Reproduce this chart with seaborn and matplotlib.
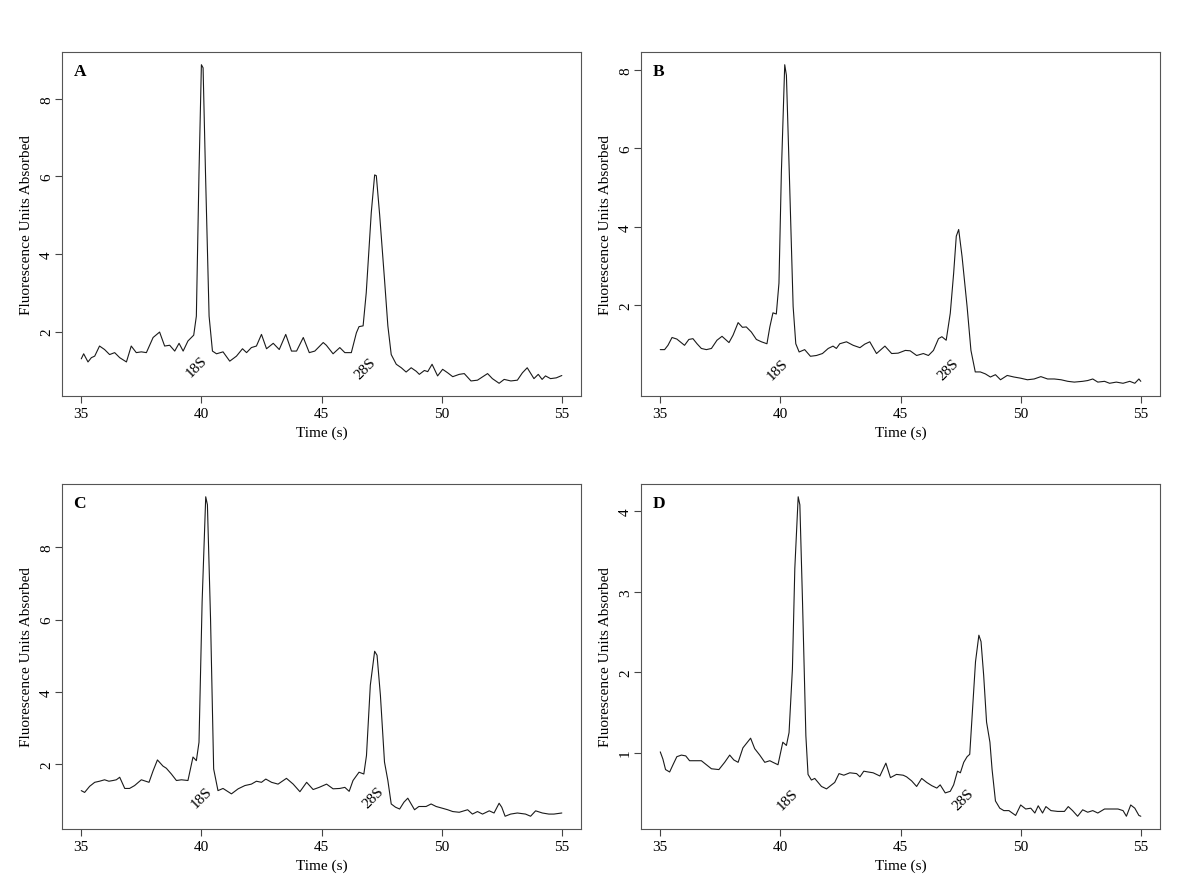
import matplotlib
matplotlib.use("Agg")
import pandas as pd
import matplotlib.pyplot as plt
import seaborn as sns

# --- data (time in s, fluorescence) ---
time_a = [35.0, 35.1, 35.28, 35.42, 35.56, 35.76, 35.97, 36.18, 36.39, 36.6,
          36.88, 37.08, 37.29, 37.5, 37.71, 37.99, 38.26, 38.47, 38.68, 38.89,
          39.07, 39.24, 39.44, 39.68, 39.79, 39.9, 40.0, 40.07, 40.17, 40.32,
          40.46, 40.63, 40.9, 41.18, 41.46, 41.71, 41.88, 42.08, 42.29, 42.5,
          42.71, 42.99, 43.24, 43.51, 43.75, 43.96, 44.24, 44.49, 44.72, 45.07,
          45.2, 45.48, 45.76, 45.97, 46.24, 46.45, 46.56, 46.73, 46.86, 47.07,
          47.21, 47.28, 47.42, 47.62, 47.76, 47.9, 48.11, 48.32, 48.52, 48.73,
          48.94, 49.07, 49.28, 49.42, 49.6, 49.83, 50.04, 50.25, 50.46, 50.73,
          50.94, 51.22, 51.49, 51.91, 52.11, 52.39, 52.6, 52.88, 53.15, 53.36,
          53.56, 53.84, 54.02, 54.18, 54.32, 54.53, 54.77, 55.0]
signal_a = [1.30, 1.43, 1.22, 1.33, 1.37, 1.63, 1.54, 1.41, 1.46, 1.33,
            1.22, 1.63, 1.46, 1.48, 1.46, 1.85, 1.99, 1.63, 1.65, 1.50,
            1.70, 1.50, 1.76, 1.91, 2.40, 6.1, 8.88, 8.80, 6.1, 2.40,
            1.50, 1.43, 1.48, 1.24, 1.37, 1.56, 1.46, 1.59, 1.63, 1.93,
            1.56, 1.70, 1.54, 1.93, 1.50, 1.50, 1.85, 1.46, 1.50, 1.72,
            1.65, 1.43, 1.59, 1.46, 1.46, 1.97, 2.13, 2.15, 3.0, 5.07,
            6.04, 6.02, 5.0, 3.35, 2.15, 1.41, 1.16, 1.07, 0.96, 1.07,
            0.98, 0.90, 1.0, 0.97, 1.16, 0.86, 1.03, 0.94, 0.84, 0.90,
            0.92, 0.73, 0.75, 0.92, 0.79, 0.67, 0.77, 0.73, 0.75, 0.94,
            1.07, 0.79, 0.90, 0.77, 0.86, 0.79, 0.81, 0.87]

time_b = [35.0, 35.18, 35.32, 35.49, 35.69, 35.83, 36.01, 36.19, 36.36, 36.53,
          36.71, 36.92, 37.13, 37.36, 37.57, 37.86, 38.03, 38.24, 38.42, 38.58,
          38.79, 39.0, 39.21, 39.44, 39.56, 39.69, 39.83, 39.94, 40.04, 40.18,
          40.25, 40.39, 40.53, 40.64, 40.78, 41.01, 41.25, 41.5, 41.75, 41.99,
          42.19, 42.33, 42.47, 42.75, 43.03, 43.31, 43.51, 43.72, 44.0, 44.35,
          44.63, 44.9, 45.2, 45.4, 45.67, 45.95, 46.16, 46.37, 46.58, 46.72,
          46.9, 47.07, 47.21, 47.32, 47.42, 47.56, 47.77, 47.93, 48.11, 48.32,
          48.53, 48.74, 48.95, 49.16, 49.44, 49.72, 50.0, 50.28, 50.56, 50.84,
          51.12, 51.4, 51.68, 51.96, 52.23, 52.58, 52.79, 53.0, 53.21, 53.49,
          53.7, 53.98, 54.26, 54.54, 54.75, 54.92, 55.0]
signal_b = [0.86, 0.86, 0.97, 1.17, 1.13, 1.06, 0.97, 1.12, 1.14, 1.01,
            0.89, 0.86, 0.89, 1.10, 1.20, 1.04, 1.23, 1.55, 1.43, 1.44,
            1.31, 1.12, 1.06, 1.01, 1.44, 1.80, 1.77, 2.56, 5.38, 8.14,
            7.87, 4.96, 1.96, 1.01, 0.80, 0.86, 0.69, 0.71, 0.76, 0.89,
            0.95, 0.89, 1.01, 1.06, 0.97, 0.91, 1.00, 1.06, 0.76, 0.95,
            0.76, 0.77, 0.84, 0.83, 0.71, 0.76, 0.71, 0.84, 1.14, 1.19,
            1.10, 1.79, 2.81, 3.76, 3.93, 3.24, 1.96, 0.84, 0.29, 0.29,
            0.24, 0.16, 0.22, 0.09, 0.20, 0.16, 0.13, 0.09, 0.11, 0.17,
            0.11, 0.11, 0.09, 0.05, 0.03, 0.05, 0.07, 0.11, 0.03, 0.05,
            0.0, 0.03, 0.0, 0.05, 0.0, 0.11, 0.05]

time_c = [35.0, 35.14, 35.35, 35.56, 35.76, 35.97, 36.15, 36.32, 36.46, 36.6,
          36.81, 37.01, 37.22, 37.5, 37.82, 37.99, 38.17, 38.4, 38.54, 38.75,
          38.96, 39.17, 39.44, 39.65, 39.79, 39.9, 40.03, 40.18, 40.25, 40.38,
          40.51, 40.69, 40.9, 41.25, 41.53, 41.81, 42.08, 42.29, 42.5, 42.68,
          42.92, 43.19, 43.54, 43.82, 44.1, 44.38, 44.65, 44.9,
          45.21, 45.48, 45.76, 45.97, 46.15, 46.31, 46.56, 46.76, 46.87, 47.03,
          47.21, 47.31, 47.45, 47.62, 47.76, 47.9, 48.08, 48.25, 48.43, 48.59,
          48.73, 48.87, 49.05, 49.35, 49.56, 49.77, 50.04, 50.25, 50.46, 50.73,
          51.08, 51.28, 51.49, 51.7, 51.98, 52.18, 52.39, 52.5, 52.64, 52.87,
          53.15, 53.49, 53.7, 53.91, 54.19, 54.46, 54.67, 55.0]
signal_c = [1.26, 1.21, 1.38, 1.49, 1.52, 1.56, 1.52, 1.54, 1.56, 1.63,
            1.32, 1.32, 1.40, 1.56, 1.49, 1.81, 2.11, 1.94, 1.88, 1.72,
            1.54, 1.56, 1.54, 2.19, 2.09, 2.6, 6.49, 9.40, 9.18, 6.03,
            1.86, 1.26, 1.32, 1.17, 1.31, 1.40, 1.44, 1.52, 1.49, 1.58,
            1.49, 1.44, 1.60, 1.44, 1.23, 1.49, 1.29, 1.35,
            1.44, 1.31, 1.32, 1.35, 1.24, 1.54, 1.77, 1.72, 2.23, 4.18,
            5.12, 5.01, 3.90, 2.05, 1.54, 0.89, 0.80, 0.75, 0.94, 1.05,
            0.89, 0.73, 0.82, 0.82, 0.89, 0.82, 0.77, 0.73, 0.68, 0.66,
            0.73, 0.61, 0.68, 0.61, 0.70, 0.64, 0.91, 0.80, 0.55, 0.61,
            0.64, 0.61, 0.55, 0.70, 0.64, 0.61, 0.61, 0.64]

time_d = [35.0, 35.11, 35.22, 35.39, 35.53, 35.69, 35.88, 36.06, 36.22, 36.43,
          36.71, 36.92, 37.13, 37.44, 37.68, 37.89, 38.06, 38.24, 38.44, 38.76,
          38.93, 39.14, 39.35, 39.56, 39.69, 39.9, 40.1, 40.25, 40.36, 40.5,
          40.6, 40.74, 40.81, 40.92, 41.06, 41.15, 41.29, 41.43, 41.71, 41.92,
          42.13, 42.26, 42.44, 42.64, 42.89, 43.17, 43.31, 43.47, 43.65, 43.86,
          44.14, 44.39, 44.58, 44.83, 45.11,
          45.25, 45.46, 45.67, 45.88, 46.09, 46.3, 46.51, 46.65, 46.86, 47.07,
          47.21, 47.37, 47.49, 47.63, 47.77, 47.88, 47.98, 48.12, 48.26, 48.35,
          48.46, 48.58, 48.72, 48.81, 48.95, 49.13, 49.3, 49.51, 49.79, 50.0,
          50.21, 50.42, 50.59, 50.73, 50.91, 51.05, 51.26, 51.54, 51.82, 51.98,
          52.16, 52.37, 52.58, 52.79, 53.0, 53.21, 53.49, 53.77, 54.05, 54.26,
          54.4, 54.58, 54.75, 54.92, 55.0]
signal_d = [1.01, 0.92, 0.79, 0.76, 0.85, 0.95, 0.97, 0.96, 0.90, 0.90,
            0.90, 0.85, 0.80, 0.79, 0.88, 0.97, 0.91, 0.88, 1.06, 1.18,
            1.05, 0.97, 0.88, 0.90, 0.88, 0.85, 1.13, 1.09, 1.25, 2.04,
            3.29, 4.18, 4.08, 2.88, 1.21, 0.73, 0.66, 0.68, 0.58, 0.55,
            0.60, 0.63, 0.74, 0.72, 0.75, 0.74, 0.70, 0.77, 0.76, 0.75,
            0.71, 0.87, 0.69, 0.73, 0.72,
            0.70, 0.65, 0.58, 0.68, 0.63, 0.59, 0.56, 0.60, 0.50, 0.52,
            0.60, 0.77, 0.75, 0.88, 0.95, 0.98, 1.46, 2.13, 2.46, 2.38,
            1.96, 1.38, 1.13, 0.79, 0.40, 0.31, 0.28, 0.28, 0.22, 0.35,
            0.30, 0.31, 0.25, 0.34, 0.25, 0.33, 0.28, 0.27, 0.27, 0.33,
            0.28, 0.21, 0.29, 0.26, 0.28, 0.25, 0.30, 0.30, 0.30, 0.28,
            0.21, 0.35, 0.31, 0.22, 0.21]

panel_letters = ["A", "B", "C", "D"]
x_ticks = [35, 40, 45, 50, 55]
y_ticks = {"A": [2, 4, 6, 8], "B": [2, 4, 6, 8], "C": [2, 4, 6, 8], "D": [1, 2, 3, 4]}
# (time, fluorescence) of the peak annotations
label_18s = {"A": (39.82, 1.11), "B": (39.9, 0.37), "C": (40.0, 1.07), "D": (40.32, 0.42)}
label_28s = {"A": (46.84, 1.07), "B": (47.0, 0.37), "C": (47.14, 1.07), "D": (47.63, 0.42)}

traces = {"A": (time_a, signal_a), "B": (time_b, signal_b),
          "C": (time_c, signal_c), "D": (time_d, signal_d)}

sns.set_style("ticks")
plt.rcParams["font.family"] = ["Liberation Serif", "DejaVu Serif"]
plt.rcParams["font.size"] = 11
plt.rcParams["text.color"] = "black"
plt.rcParams["axes.labelcolor"] = "black"

fig = plt.figure(figsize=(12, 8.95), dpi=100)
# axes boxes in figure fractions
boxes = {"A": [0.0517, 0.5564, 0.4325, 0.3844],
         "B": [0.5342, 0.5564, 0.4325, 0.3844],
         "C": [0.0517, 0.0726, 0.4325, 0.3855],
         "D": [0.5342, 0.0726, 0.4325, 0.3855]}

for letter in panel_letters:
    ax = fig.add_axes(boxes[letter])
    t, v = traces[letter]
    df = pd.DataFrame({"time": t, "signal": v})
    sns.lineplot(data=df, x="time", y="signal", ax=ax, color="#1a1a1a",
                 linewidth=0.8, estimator=None, sort=False)
    ax.margins(x=0.04, y=0.04)
    ax.set_xticks(x_ticks)
    ax.set_yticks(y_ticks[letter])
    ax.set_xlabel("Time (s)", fontsize=11, labelpad=4)
    ax.set_ylabel("Fluorescence Units Absorbed", fontsize=11, labelpad=5)
    ax.tick_params(direction="out", length=5, width=0.8, colors="#444444",
                   labelcolor="black", labelsize=11, pad=3)
    ax.tick_params(axis="y", pad=1.5)
    for lab in ax.get_yticklabels():
        lab.set_rotation(90)
        lab.set_va("center")
    for sp in ax.spines.values():
        sp.set_visible(True)
        sp.set_color("#555555")
        sp.set_linewidth(0.8)
    ax.text(0.022, 0.945, letter, transform=ax.transAxes, fontsize=12.5,
            fontweight="bold", ha="left", va="center", color="black")
    ax.text(*label_18s[letter], "18S", rotation=45, ha="center", va="center",
            fontsize=11, color="black")
    ax.text(*label_28s[letter], "28S", rotation=45, ha="center", va="center",
            fontsize=11, color="black")

fig.savefig("out.png", dpi=100)
